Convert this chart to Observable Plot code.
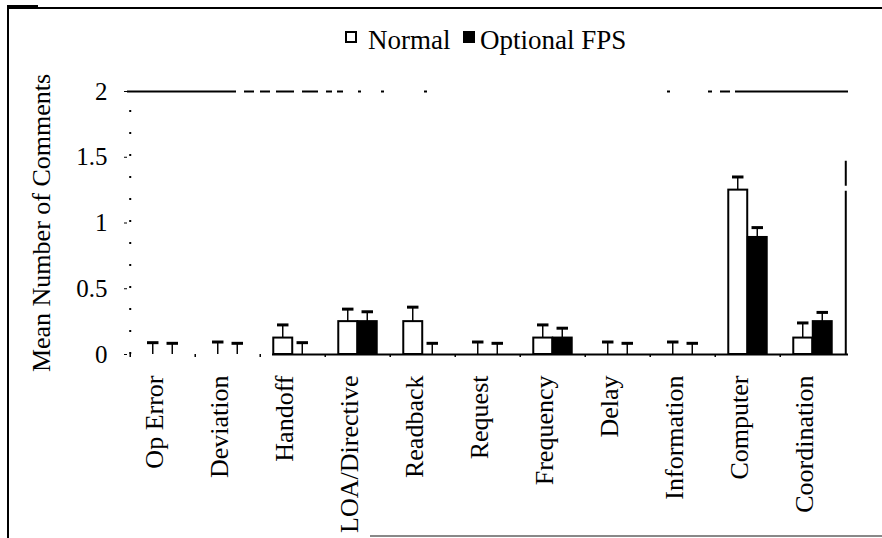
<!DOCTYPE html>
<html><head><meta charset="utf-8">
<script src="https://cdn.jsdelivr.net/npm/d3@7"></script>
<script src="https://cdn.jsdelivr.net/npm/@observablehq/plot@0.6"></script>
<style>
html,body{margin:0;padding:0;background:#fff;}
#wrap{position:relative;width:882px;height:538px;overflow:hidden;font-family:"Liberation Serif","Times New Roman",serif;}
#wrap svg{position:absolute;left:0;top:0;}
.ln{position:absolute;background:#000;}
.lg{position:absolute;font-size:27px;line-height:27px;color:#000;white-space:nowrap;}
.sq{position:absolute;box-sizing:border-box;border:2px solid #000;}
</style></head><body>
<div id="wrap"></div>
<script>
// ---- data ----
const categories = ["Op Error","Deviation","Handoff","LOA/Directive","Readback","Request","Frequency","Delay","Information","Computer","Coordination"];
const seriesNames = ["Normal","Optional FPS"];
const normalMeans    = [0, 0, 0.125, 0.25, 0.25, 0, 0.125, 0, 0, 1.25, 0.125];
const normalErrors   = [0.09, 0.095, 0.1, 0.095, 0.11, 0.095, 0.1, 0.095, 0.095, 0.1, 0.115];
const optionalMeans  = [0, 0, 0, 0.25, 0, 0, 0.125, 0, 0, 0.89, 0.25];
const optionalErrors = [0.085, 0.085, 0.09, 0.075, 0.085, 0.085, 0.075, 0.085, 0.085, 0.075, 0.07];
const yTicks = [0, 0.5, 1, 1.5, 2];
const yLabel = "Mean Number of Comments";

const rows = categories.flatMap((c, i) => [
  {cat: c, series: seriesNames[0], mean: normalMeans[i], err: normalErrors[i]},
  {cat: c, series: seriesNames[1], mean: optionalMeans[i], err: optionalErrors[i]}
]);

// ---- layout ----
const W = 882, H = 538, mL = 127, mR = 34, mT = 91, mB = 184;
const bw = (W - mL - mR) / categories.length;
const half = bw / 2;
const barW = 19.5, stemW = 2, capW = 12, off = barW / 2;
const FONT = "Liberation Serif";

const isN = d => d.series === seriesNames[0];
const isO = d => d.series === seriesNames[1];

const chart = Plot.plot({
  width: W, height: H,
  marginLeft: mL, marginRight: mR, marginTop: mT, marginBottom: mB,
  style: {fontFamily: FONT, fontSize: "25px", color: "black", background: "transparent"},
  x: {type: "band", domain: categories, padding: 0, axis: null},
  y: {domain: [0, 2], ticks: yTicks, tickFormat: d => String(d), tickSize: 3, tickPadding: 17, label: null},
  marks: [
    // plot area lines
    Plot.ruleY([2], {stroke: "black", strokeWidth: 2,
      strokeDasharray: "109,8,10,6,10,6,18,8,16,8,6,5,6,15,3,20,3,40,3,240,3,38,4,8,10,5,115"}),
    Plot.ruleX([categories[0]], {x: d => d, dx: -half, y1: 0, y2: 2, stroke: "black", strokeWidth: 2, strokeDasharray: "2,20"}),
    Plot.ruleX([categories[categories.length - 1]], {x: d => d, dx: half, y1: 1.47, y2: 0, stroke: "black", strokeWidth: 2, strokeDasharray: "25,5,400"}),
    Plot.ruleX(categories, {x: d => d, dx: -half, y1: 0, y2: -0.022, stroke: "black", strokeWidth: 1.5}),
    // error stems
    Plot.barY(rows.filter(isN), {x: "cat", y1: "mean", y2: d => d.mean + d.err, fill: "black",
      insetLeft: half - off - stemW / 2, insetRight: bw - (half - off - stemW / 2) - stemW}),
    Plot.barY(rows.filter(isO), {x: "cat", y1: "mean", y2: d => d.mean + d.err, fill: "black",
      insetLeft: half + off - stemW / 2, insetRight: bw - (half + off - stemW / 2) - stemW}),
    // bars
    Plot.barY(rows.filter(d => isN(d) && d.mean > 0), {x: "cat", y: "mean", fill: "white", stroke: "black", strokeWidth: 2,
      insetLeft: half - barW, insetRight: half}),
    Plot.barY(rows.filter(d => isO(d) && d.mean > 0), {x: "cat", y: "mean", fill: "black", stroke: "black", strokeWidth: 2,
      insetLeft: half, insetRight: half - barW}),
    // caps
    Plot.tickY(rows.filter(isN), {x: "cat", y: d => d.mean + d.err, stroke: "black", strokeWidth: 3,
      insetLeft: half - off - capW / 2, insetRight: bw - (half - off - capW / 2) - capW}),
    Plot.tickY(rows.filter(isO), {x: "cat", y: d => d.mean + d.err, stroke: "black", strokeWidth: 3,
      insetLeft: half + off - capW / 2, insetRight: bw - (half + off - capW / 2) - capW}),
    // baseline
    Plot.ruleY([0], {stroke: "black", strokeWidth: 2, strokeDasharray: "0,145,2000"}),
    // category labels
    Plot.text(categories, {x: d => d, text: d => d, frameAnchor: "bottom", rotate: -90, textAnchor: "end",
      dy: 21, fontSize: 26, fontFamily: FONT, fill: "black"}),
    // y label
    Plot.text([yLabel], {text: d => d, frameAnchor: "left", rotate: -90, textAnchor: "middle", dx: -86,
      fontSize: 26, fontFamily: FONT, fill: "black"})
  ]
});

const wrap = document.getElementById("wrap");
wrap.appendChild(chart);

// outer chart border
function line(l, t, w, h, c) {
  const d = document.createElement("div");
  d.className = "ln";
  Object.assign(d.style, {left: l + "px", top: t + "px", width: w + "px", height: h + "px"});
  if (c) d.style.background = c;
  wrap.appendChild(d);
}
line(7, 7, 2, 531);
line(7, 7, 875, 2);
line(7, 5, 31, 4);
line(370, 535, 512, 2, "#888");

// legend
function sq(l, t, filled) {
  const d = document.createElement("div");
  d.className = "sq";
  Object.assign(d.style, {left: l + "px", top: t + "px", width: "12px", height: "12px", background: filled ? "#000" : "#fff"});
  wrap.appendChild(d);
}
function lg(l, t, s) {
  const d = document.createElement("div");
  d.className = "lg";
  d.textContent = s;
  Object.assign(d.style, {left: l + "px", top: t + "px"});
  wrap.appendChild(d);
}
sq(345, 31, false);
lg(368, 27, seriesNames[0]);
sq(463, 31, true);
lg(480, 27, seriesNames[1]);
</script>
</body></html>
